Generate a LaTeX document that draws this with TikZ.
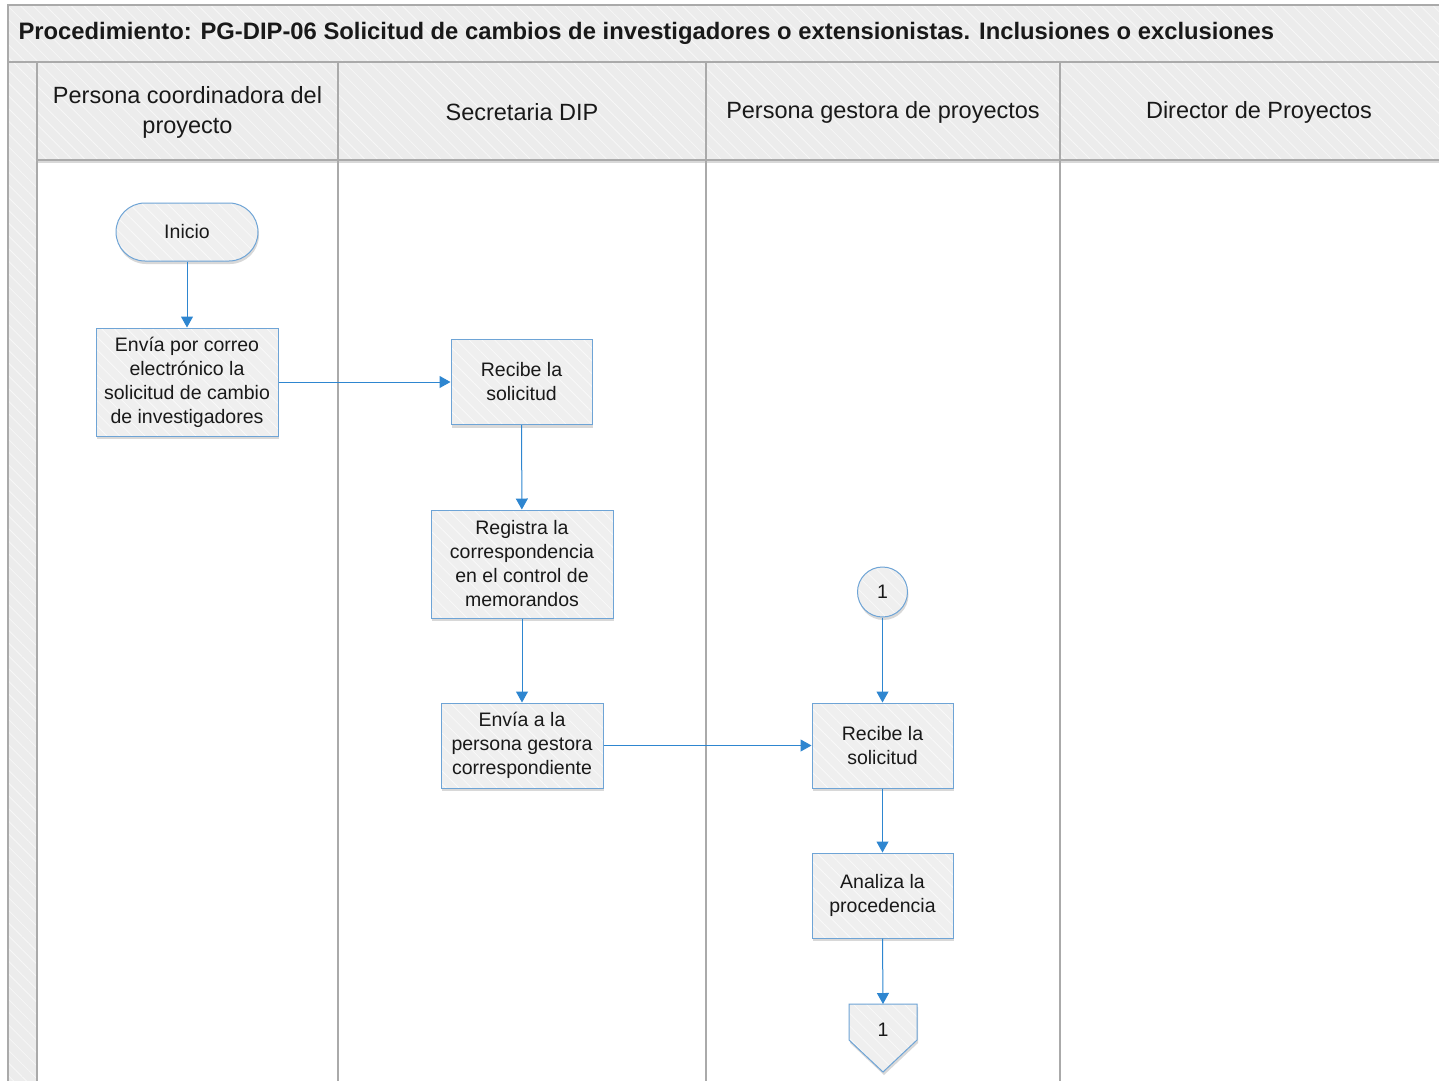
\documentclass[tikz,border=0pt]{standalone}
\usepackage{fontspec}
\setmainfont{Liberation Sans}
\usetikzlibrary{arrows.meta,shadows,patterns.meta}

\definecolor{boxblue}{RGB}{110,164,214}
\definecolor{arrowblue}{RGB}{46,134,208}
\definecolor{boxgray}{RGB}{239,239,239}
\definecolor{lanegray}{RGB}{236,236,236}
\definecolor{laneline}{RGB}{170,170,170}
\definecolor{inkblack}{RGB}{25,25,25}

\tikzset{
  hatch/.style={preaction={fill=#1},
    preaction={pattern={Lines[angle=-45,distance=9pt,line width=0.8pt]},pattern color=white!60!#1}},
  lanebox/.style={draw=laneline,line width=1.2pt,hatch=lanegray},
  shade/.style={drop shadow={opacity=0.3,shadow xshift=1pt,shadow yshift=-3pt}},
  task/.style={shade,hatch=boxgray,draw=boxblue,line width=1pt,align=center,
    text=inkblack,font=\fontsize{19.5}{24}\selectfont,inner sep=2pt},
  startnode/.style={task,rounded corners=29pt,minimum width=142pt,minimum height=58pt},
  connect/.style={task,circle,minimum size=50pt,inner sep=0pt},
  flow/.style={draw=arrowblue,line width=1pt,-{Triangle[width=12pt,length=11pt]}},
  header/.style={align=center,text=inkblack,font=\fontsize{23.5}{30}\selectfont}
}

\begin{document}
\begin{tikzpicture}[x=1pt,y=-1pt]
  %%%%% START %%%%%
  \useasboundingbox (0,0) rectangle (1439,1080);
  \fill[white] (0,0) rectangle (1439,1080);

  % pool frame
  \draw[lanebox] (8,5) rectangle (1460,62);
  \node[anchor=west,text=inkblack,font=\fontsize{23.8}{28}\selectfont\bfseries] (title) at (15,33)
    {Procedimiento: PG-DIP-06 Solicitud de cambios de investigadores o extensionistas. Inclusiones o exclusiones};
  \draw[lanebox] (8,62) rectangle (37,1100);
  \draw[shade,lanebox] (37,62) rectangle (1460,160);

  % lanes
  \foreach \x in {37,338,706,1060}
    \draw[laneline,line width=1.2pt] (\x,62) -- (\x,1100);

  \node[header] (laneA) at (187.5,112) {Persona coordinadora del\\proyecto};
  \node[header] (laneB) at (522,112) {Secretaria DIP};
  \node[header] (laneC) at (883,112) {Persona gestora de proyectos};
  \node[header] (laneD) at (1259,112) {Director de Proyectos};

  % steps
  \node[startnode] (inicio) at (187,232) {Inicio};
  \node[task,minimum width=182pt,minimum height=108pt] (envia) at (187,382)
    {Envía por correo\\electrónico la\\solicitud de cambio\\de investigadores};
  \node[task,minimum width=141pt,minimum height=85pt] (recibeA) at (521.5,382)
    {Recibe la\\solicitud};
  \node[task,minimum width=182pt,minimum height=108pt] (registra) at (522,564)
    {Registra la\\correspondencia\\en el control de\\memorandos};
  \node[task,minimum width=162pt,minimum height=85pt] (enviaB) at (522,745.5)
    {Envía a la\\persona gestora\\correspondiente};
  \node[connect] (conA) at (882.5,592) {1};
  \node[task,minimum width=141pt,minimum height=85pt] (recibeB) at (882.5,745.5)
    {Recibe la\\solicitud};
  \node[task,minimum width=141pt,minimum height=85pt] (analiza) at (882.5,895.5)
    {Analiza la\\procedencia};

  % off-page connector
  \draw[shade,hatch=boxgray,draw=boxblue,line width=1pt]
    (849,1004) -- (917,1004) -- (917,1040) -- (883,1072) -- (849,1040) -- cycle;
  \coordinate (offtop) at (883,1004);
  \node[text=inkblack,font=\fontsize{19.5}{24}\selectfont] (conB) at (883,1030) {1};

  % flows
  \draw[flow] (inicio) -- (envia);
  \draw[flow] (envia) -- (recibeA);
  \draw[flow] (recibeA) -- (registra);
  \draw[flow] (registra) -- (enviaB);
  \draw[flow] (enviaB) -- (recibeB);
  \draw[flow] (conA) -- (recibeB);
  \draw[flow] (recibeB) -- (analiza);
  \draw[flow] (analiza.south) -- (offtop);
  %%%%% END %%%%%
\end{tikzpicture}
\end{document}
